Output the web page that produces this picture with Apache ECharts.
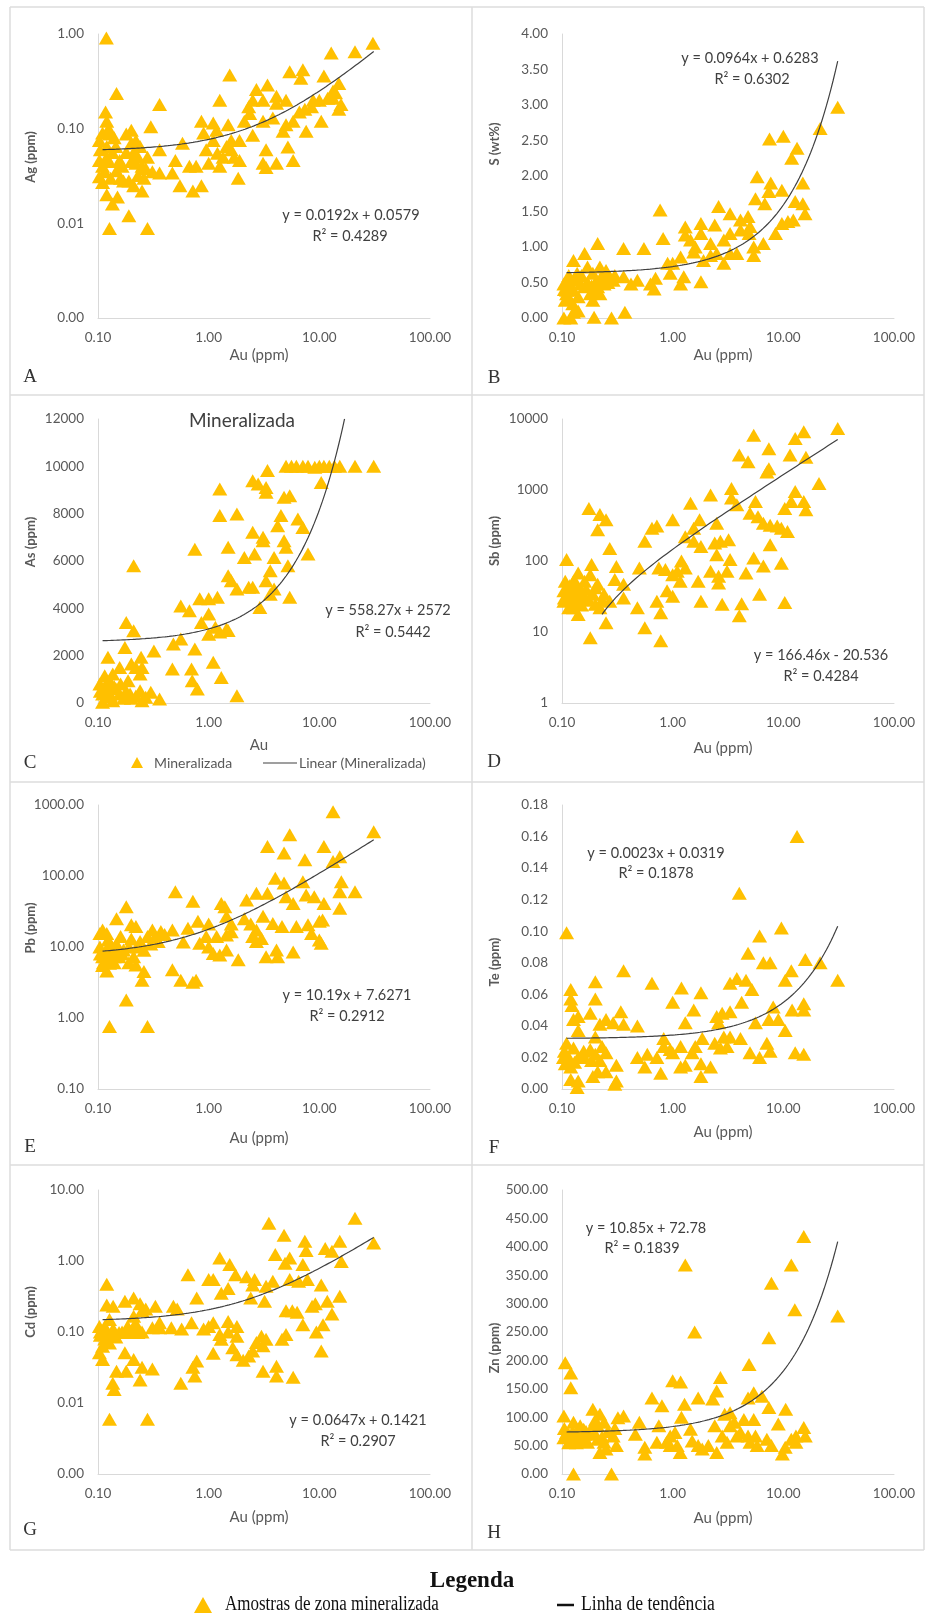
<!DOCTYPE html>
<html><head><meta charset="utf-8">
<script src="https://cdn.jsdelivr.net/npm/echarts@6/dist/echarts.min.js"></script>
<style>html,body{margin:0;padding:0;background:#fff}#c{width:928px;height:1616px}</style>
</head><body><div id="c"></div>
<script>
// ---------------- DATA ----------------
const xTicks = [0.1, 1, 10, 100];   // Au (ppm), log axis
const panelLetters = ['A','B','C','D','E','F','G','H'];
const yTitles = ['Ag (ppm)','S (wt%)','As (ppm)','Sb (ppm)','Pb (ppm)','Te (ppm)','Cd (ppm)','Zn (ppm)'];
const xTitles = ['Au (ppm)','Au (ppm)','Au','Au (ppm)','Au (ppm)','Au (ppm)','Au (ppm)','Au (ppm)'];
const equations = ['y = 0.0192x + 0.0579','y = 0.0964x + 0.6283','y = 558.27x + 2572','y = 166.46x - 20.536',
                   'y = 10.19x + 7.6271','y = 0.0023x + 0.0319','y = 0.0647x + 0.1421','y = 10.85x + 72.78'];
const rSquared = ['R² = 0.4289','R² = 0.6302','R² = 0.5442','R² = 0.4284','R² = 0.2912','R² = 0.1878','R² = 0.2907','R² = 0.1839'];
// linear trend coefficients [slope, intercept] and drawn x-range
const trendCoef = [[0.0192,0.0579],[0.0964,0.6283],[558.27,2572],[166.46,-20.536],[10.19,7.6271],[0.0023,0.0319],[0.0647,0.1421],[10.85,72.78]];
const trendRange = [[0.11,31],[0.11,31],[0.11,16.9],[0.23,31],[0.11,31],[0.11,31],[0.11,31],[0.11,31]];

// [Au, element]
const agData = [[0.119,0.91],[0.147,0.235],[0.117,0.15],[0.12,0.12],[0.36,0.18],[0.30,0.105],[1.55,0.37],[1.26,0.2],[0.58,0.07],[0.36,0.06],[0.86,0.12],[1.1,0.115],[1.5,0.11],[2.7,0.26],[3.4,0.29],[4.1,0.22],[5,0.2],[5.4,0.4],[7.1,0.42],[6.8,0.34],[12.8,0.63],[21,0.65],[30.5,0.8],[11,0.36],[15,0.3],[15.7,0.18],[15,0.16],[10.4,0.12],[13.3,0.25],[8.8,0.2],[7.6,0.094],[5.8,0.046],[5.2,0.064],[4.7,0.094],[3.3,0.06],[3.1,0.043],[3.3,0.039],[4.1,0.043],[2.5,0.085],[2.35,0.145],[1.9,0.046],[1.85,0.03],[1.6,0.06],[1.35,0.05],[1.26,0.04],[1.0,0.043],[0.95,0.06],[0.77,0.04],[0.67,0.04],[0.55,0.025],[0.72,0.022],[0.86,0.025],[0.5,0.046],[0.47,0.034],[0.36,0.034],[0.31,0.035],[0.25,0.022],[0.19,0.012],[0.127,0.0088],[0.28,0.0088],[0.135,0.016],[0.15,0.019],[0.12,0.02],[0.103,0.031],[0.11,0.04],[0.103,0.075],[0.127,0.088],[0.18,0.088],[0.2,0.096],[0.22,0.075],[0.18,0.056],[0.21,0.056],[0.157,0.046],[0.22,0.043],[0.19,0.028],[0.21,0.025],[0.17,0.028],[0.25,0.04],[0.135,0.056],[0.12,0.05],[0.103,0.046],[0.11,0.027],[0.147,0.036],[0.28,0.05],[1.6,0.075],[1.45,0.065],[1.1,0.075],[1.18,0.096],[1.9,0.075],[5,0.11],[5.8,0.12],[6.6,0.15],[7.4,0.16],[8.5,0.17],[10,0.2],[11.9,0.21],[14,0.24],[3.1,0.2],[3.1,0.12],[3.8,0.13],[4.1,0.185],[2.5,0.2],[13.3,0.21],[0.115,0.035],[0.13,0.03],[0.16,0.03],[0.23,0.032],[0.26,0.03],[0.12,0.065],[0.14,0.08],[0.24,0.065],
  [0.105,0.06],[0.125,0.045],[0.145,0.065],[0.165,0.04],[0.2,0.045],[0.23,0.05],[0.27,0.038],[0.11,0.09],[0.125,0.1],[0.2,0.07],[1.2,0.055],[1.7,0.05],[2.1,0.12],[2.3,0.17],[0.9,0.09]];

const sData = [[31,2.97],[21.5,2.67],[7.5,2.52],[10,2.56],[13.3,2.39],[11.9,2.25],[5.8,1.99],[7.7,1.9],[9.7,1.8],[15,1.9],[7.4,1.78],[5.6,1.68],[6.8,1.61],[12.8,1.64],[15,1.61],[15.7,1.47],[0.77,1.52],[2.6,1.57],[3.3,1.47],[4.1,1.38],[4.8,1.43],[5,1.29],[1.3,1.28],[1.8,1.33],[2.4,1.31],[1.8,1.19],[1.3,1.17],[0.82,1.12],[0.55,0.98],[0.36,0.98],[0.21,1.05],[0.16,0.91],[0.127,0.81],[1.55,0.93],[2.2,1.05],[2.9,1.1],[3.3,1.19],[4.1,1.24],[4.9,1.19],[5.4,1.0],[5.4,0.88],[6.6,1.05],[8.5,1.19],[9.7,1.33],[11,1.36],[12.3,1.38],[3.3,0.91],[2.9,0.77],[3.8,0.91],[2.5,0.91],[2.2,0.88],[1.9,0.81],[1.18,0.86],[1.0,0.77],[0.9,0.77],[0.95,0.63],[1.26,0.58],[1.18,0.48],[1.8,0.51],[0.7,0.56],[0.63,0.48],[0.68,0.41],[0.48,0.53],[0.42,0.48],[0.36,0.58],[0.29,0.53],[0.25,0.67],[0.22,0.72],[0.19,0.63],[0.17,0.72],[0.147,0.48],[0.127,0.39],[0.11,0.34],[0.104,0.48],[0.107,0.25],[0.12,0.53],[0.137,0.63],[0.16,0.44],[0.18,0.34],[0.21,0.44],[0.24,0.48],[0.27,0.58],[0.19,0.25],[0.22,0.34],[0.104,0.0],[0.12,0.0],[0.127,0.08],[0.195,0.01],[0.28,0.0],[0.37,0.08],[0.11,0.39],[1.6,1.0],[1.45,1.1],[0.115,0.6],[0.14,0.3],[0.2,0.5],[0.23,0.6],
  [0.105,0.4],[0.118,0.45],[0.13,0.55],[0.15,0.6],[0.17,0.5],[0.185,0.45],[0.2,0.38],[0.23,0.55],[0.26,0.5],[0.3,0.6],[0.112,0.28],[0.125,0.2],[0.14,0.1]];

const asData = [[0.11,380],[0.12,660],[0.104,800],[0.127,940],[0.136,1225],[0.115,1150],[0.157,1500],[0.123,1930],[0.175,2350],[0.18,3400],[0.21,3050],[0.21,5800],[0.2,1650],[0.22,1500],[0.245,1930],[0.25,1500],[0.24,1225],[0.187,940],[0.157,380],[0.195,380],[0.24,520],[0.27,240],[0.3,450],[0.36,170],[0.136,100],[0.11,30],[0.32,2200],[0.47,1440],[0.48,2490],[0.56,2700],[0.56,4100],[0.67,3900],[0.75,2280],[0.7,1440],[0.71,940],[0.79,590],[0.75,6500],[0.83,4400],[1.0,4400],[1.2,4470],[0.86,3400],[1.0,3760],[1.0,2900],[1.15,3200],[1.26,3000],[1.45,3130],[1.5,3060],[1.1,1720],[1.3,1080],[1.8,310],[1.26,9040],[1.26,7920],[1.8,7990],[1.5,6580],[1.5,5380],[1.6,5170],[1.8,4820],[2.1,6150],[2.5,4890],[2.9,4040],[2.3,4890],[2.6,6300],[2.5,7210],[2.5,9390],[2.8,9250],[3.3,9110],[3.3,8900],[3.4,9820],[3.1,7000],[3.1,6860],[3.3,5170],[3.6,5590],[3.9,4820],[3.9,6150],[4.2,7490],[4.5,7920],[4.8,8690],[5.4,8760],[4.8,6860],[5.0,6580],[5.2,5800],[5.4,4470],[6.4,7770],[7.1,7420],[7.9,6300],[5.0,10000],[5.6,10000],[6.2,10000],[7.1,10000],[7.9,10000],[9.1,9960],[10,10000],[11,10000],[12.3,10000],[13.7,10000],[15.3,10000],[21,10000],[31,10000],[10.4,9320],[3.6,4600],[0.14,700],[0.13,300],[0.17,200],
  [0.105,500],[0.118,250],[0.125,450],[0.145,600],[0.16,800],[0.18,500],[0.2,200],[0.22,300],[0.25,100],[0.115,700]];

const sbData = [[31,7330],[15.3,6600],[5.4,5900],[12.8,5300],[7.4,3800],[4.0,3100],[4.8,2500],[11.5,3100],[16,2900],[7.4,2000],[7.1,1800],[21,1230],[3.4,1050],[3.4,770],[2.2,850],[1.45,650],[3.8,620],[5.6,690],[12.8,950],[15.3,690],[16,525],[10.3,550],[11.8,690],[5,470],[5.9,420],[6.6,340],[7.6,320],[8.8,310],[9.6,290],[10.9,260],[7.6,170],[5.4,110],[6.6,85],[9.6,93],[10.3,26],[6.1,34],[4.2,25],[4.0,17],[2.8,24.5],[1.8,27],[4.6,68],[3.3,105],[3.2,200],[2.7,190],[2.4,180],[2.5,340],[2.5,122],[2.6,61],[2.2,72],[2.6,49],[3.1,72],[1.7,52],[1.8,160],[1.55,190],[1.75,380],[1.3,220],[1.0,380],[1.55,290],[1.2,100],[1.3,80],[1.1,72],[1.17,52],[1.0,64],[0.86,76],[0.75,80],[0.89,38],[1.0,32],[0.72,27],[0.78,18.6],[0.78,7.5],[0.56,11.5],[0.48,22],[0.5,80],[0.56,190],[0.65,290],[0.72,310],[0.31,84],[0.3,55],[0.36,47],[0.36,30],[0.27,150],[0.25,380],[0.22,450],[0.21,275],[0.175,550],[0.18,8.3],[0.25,13.5],[0.22,22],[0.24,34],[0.19,34],[0.21,47],[0.185,89],[0.18,64],[0.16,52],[0.15,38],[0.14,27],[0.14,17.7],[0.127,22],[0.12,30],[0.11,42],[0.11,105],[0.104,38],[0.104,27],[0.127,52],[0.14,68],[0.12,38],[0.107,52],[0.133,42],[0.157,30],[0.27,27],[0.2,24.5],[0.115,22],
  [0.105,30],[0.113,35],[0.118,45],[0.125,28],[0.13,35],[0.135,48],[0.142,32],[0.15,24],[0.165,40],[0.175,28],[0.2,42],[0.23,28]];

const pbData = [[13.3,805],[31,420],[5.4,380],[3.4,260],[11,260],[4.8,210],[7.4,170],[15.3,187],[13.3,160],[4.0,93],[4.8,80],[7.1,83],[15.8,83],[15.3,60],[21,60],[0.5,60],[3.4,57],[2.7,57],[2.2,46],[5,51],[5.8,41],[7.6,54],[9,51],[11,41],[15.3,35],[1.3,41],[1.4,37],[0.72,44],[0.18,37],[0.147,25],[0.11,17.4],[0.2,20.5],[0.22,19.4],[0.31,17.4],[0.37,16.5],[0.47,17.4],[0.65,18.3],[0.8,23],[1.0,21],[1.45,27],[1.6,21],[1.6,16.4],[1.45,14.8],[1.18,14],[0.95,14],[0.83,11.3],[1.0,10],[1.1,8.1],[1.26,7.7],[1.45,9.1],[1.85,6.6],[0.59,11.8],[0.47,4.8],[0.56,3.4],[0.72,3.2],[0.77,3.4],[0.26,4.5],[0.25,3.4],[0.18,1.8],[0.127,0.76],[0.28,0.76],[0.12,4.6],[0.127,5.9],[0.11,7.3],[0.104,10],[0.123,12.5],[0.147,11],[0.17,9.1],[0.19,10],[0.21,7.3],[0.22,5.6],[0.19,6],[0.155,7.3],[0.14,7.3],[0.136,9],[0.28,14],[0.33,14],[0.104,15.5],[0.12,15.5],[3.8,21.4],[4.6,19.4],[6.2,19.4],[7.9,20.5],[10,23],[10.7,24],[8.5,15.5],[10,12.5],[10.4,11.3],[3.1,27],[2.7,17.4],[3.0,13.2],[2.7,12],[3.3,7.3],[4.1,9.1],[4.2,7.3],[5.8,8.5],[2.5,14],[2.4,21],[2.1,25],[0.11,5.5],[0.13,8],[0.16,14],[0.24,12],[0.3,11],
  [0.105,8],[0.112,6],[0.118,9],[0.125,7],[0.13,11],[0.14,6],[0.15,9],[0.165,8],[0.2,13],[0.23,10],[0.26,9],[0.35,12],[0.4,15]];

const teData = [[13.3,0.160],[4.0,0.124],[9.6,0.102],[0.11,0.099],[6.1,0.097],[4.8,0.086],[15.8,0.082],[21.5,0.080],[6.6,0.080],[7.6,0.080],[11.8,0.075],[0.36,0.075],[10.4,0.069],[31,0.069],[4.6,0.069],[3.3,0.067],[3.8,0.070],[0.2,0.068],[0.65,0.067],[1.2,0.064],[1.8,0.061],[5.2,0.063],[0.12,0.063],[0.12,0.057],[0.2,0.057],[1.0,0.055],[4.2,0.055],[15.3,0.054],[12,0.050],[0.123,0.053],[1.55,0.050],[0.34,0.049],[0.18,0.048],[0.14,0.046],[0.127,0.044],[0.25,0.044],[1.3,0.042],[8.1,0.052],[2.8,0.048],[3.3,0.049],[7.4,0.044],[9,0.044],[10.4,0.037],[5.6,0.042],[0.48,0.040],[0.36,0.041],[0.22,0.041],[0.29,0.042],[2.6,0.042],[0.14,0.037],[0.11,0.029],[0.127,0.026],[0.103,0.020],[0.107,0.016],[0.12,0.014],[0.14,0.020],[0.157,0.024],[0.18,0.025],[0.185,0.018],[0.2,0.033],[0.23,0.027],[0.25,0.023],[0.19,0.008],[0.21,0.011],[0.12,0.006],[0.137,0.001],[0.14,0.005],[0.3,0.003],[0.31,0.005],[0.31,0.015],[0.25,0.011],[0.48,0.020],[0.56,0.014],[0.59,0.022],[0.72,0.020],[0.78,0.010],[0.83,0.032],[0.95,0.025],[1.0,0.023],[1.18,0.027],[1.18,0.014],[1.3,0.015],[1.5,0.023],[1.6,0.027],[1.85,0.032],[1.8,0.016],[1.8,0.008],[2.2,0.014],[0.83,0.027],[2.4,0.029],[2.5,0.046],[2.7,0.026],[3.1,0.027],[3.3,0.033],[4.1,0.032],[2.9,0.033],[5,0.023],[6.1,0.020],[7.1,0.029],[7.6,0.024],[12.8,0.023],[15.3,0.022],[15.3,0.050],
  [0.105,0.024],[0.115,0.02],[0.13,0.017],[0.16,0.02],[0.2,0.022],[0.22,0.018]];

const cdData = [[21,4.0],[3.5,3.4],[4.8,2.3],[7.4,1.9],[31,1.8],[15.3,1.9],[11.3,1.5],[13,1.37],[7.6,1.4],[4.0,1.23],[5.4,1.1],[1.26,1.1],[1.55,0.89],[4.9,0.93],[15.8,0.98],[7.1,0.89],[1.75,0.64],[0.65,0.64],[1.0,0.55],[2.2,0.6],[2.6,0.55],[2.5,0.46],[5.4,0.55],[6.5,0.52],[7.8,0.55],[3.8,0.52],[3.3,0.44],[10.4,0.46],[1.3,0.35],[1.1,0.55],[1.5,0.41],[3.2,0.27],[0.12,0.47],[15.3,0.32],[11.8,0.27],[0.78,0.30],[2.4,0.30],[0.137,0.23],[0.12,0.24],[0.175,0.27],[0.21,0.30],[0.24,0.25],[0.27,0.21],[0.33,0.23],[0.48,0.23],[0.52,0.21],[0.21,0.166],[0.25,0.2],[8.6,0.23],[9.2,0.25],[5.0,0.2],[5.7,0.2],[6.3,0.19],[13,0.18],[7.1,0.127],[10.8,0.127],[9.4,0.10],[5,0.092],[4.6,0.079],[10.4,0.054],[1.26,0.092],[1.5,0.1],[1.1,0.135],[1.0,0.12],[0.9,0.11],[0.7,0.135],[0.57,0.11],[0.46,0.115],[0.36,0.135],[0.31,0.115],[0.36,0.115],[1.5,0.14],[1.8,0.12],[1.8,0.087],[1.65,0.06],[1.8,0.048],[2.05,0.04],[2.3,0.046],[2.5,0.054],[2.7,0.071],[3.0,0.087],[3.3,0.079],[3.1,0.064],[1.3,0.079],[1.1,0.05],[3.1,0.028],[4.1,0.033],[4.1,0.024],[5.8,0.023],[0.78,0.039],[0.72,0.032],[0.75,0.024],[0.56,0.019],[0.31,0.03],[0.25,0.032],[0.24,0.021],[0.21,0.041],[0.18,0.028],[0.147,0.028],[0.14,0.0155],[0.136,0.019],[0.175,0.051],[0.127,0.0059],[0.28,0.0059],[0.103,0.051],[0.11,0.063],[0.11,0.041],[0.12,0.098],[0.103,0.12],[0.137,0.11],[0.155,0.098],[0.127,0.07],[0.185,0.12],[0.2,0.098],[0.23,0.098],[0.127,0.15],[0.115,0.08],[0.105,0.09],[0.22,0.13],
  [0.105,0.1],[0.115,0.12],[0.125,0.09],[0.135,0.1],[0.145,0.085],[0.165,0.1],[0.19,0.11],[0.21,0.12],[0.25,0.1]];

const znData = [[15.3,418],[1.3,368],[11.8,368],[7.8,336],[12.7,289],[31,278],[1.58,250],[7.4,240],[0.107,196],[0.12,178],[0.12,152],[4.9,193],[1.0,164],[1.18,162],[2.7,170],[2.5,146],[2.3,132],[0.65,134],[0.8,120],[1.7,134],[1.28,123],[5.4,143],[4.8,134],[6.4,137],[7.4,117],[10.5,114],[9,88],[1.2,100],[3.3,108],[0.36,102],[0.32,99],[0.5,91],[0.19,114],[0.22,105],[0.104,102],[0.127,91],[0.146,85],[0.11,73],[0.104,64],[0.12,61],[0.137,67],[0.157,79],[0.18,73],[0.21,85],[0.24,91],[0.21,61],[0.24,56],[0.22,38],[0.25,44],[0.31,50],[0.29,67],[0.17,56],[0.127,0],[0.28,0],[0.46,70],[0.56,47],[0.56,35],[0.75,85],[0.72,56],[0.88,56],[0.95,67],[1.05,73],[1.1,50],[1.17,38],[1.45,79],[1.5,58],[1.7,50],[1.85,44],[2.1,50],[2.5,38],[2.4,85],[2.8,67],[3.1,56],[3.3,85],[3.6,91],[4.1,73],[3.8,67],[4.4,96],[4.8,67],[5,56],[5.6,67],[5.8,50],[5.4,96],[7.1,61],[7.8,50],[9.8,35],[10.4,47],[11.8,61],[13,67],[15.3,82],[15.8,67],[13,56],[2.95,105],[0.95,50],[0.115,55],[0.14,60],[0.2,95],[0.16,70],
  [0.105,80],[0.115,70],[0.125,75],[0.135,55],[0.15,65],[0.165,75],[0.19,85],[0.2,70],[0.23,65],[0.26,75],[0.3,80]];

// ---------------- LAYOUT / STYLE ----------------
const seriesData = [agData, sData, asData, sbData, pbData, teData, cdData, znData];
const yCfg = [
  {type:'log', min:0.001, max:1, dec:2},
  {type:'value', min:0, max:4, interval:0.5, dec:2},
  {type:'value', min:0, max:12000, interval:2000, dec:0},
  {type:'log', min:1, max:10000, dec:0},
  {type:'log', min:0.1, max:1000, dec:2},
  {type:'value', min:0, max:0.18, interval:0.02, dec:2},
  {type:'log', min:0.001, max:10, dec:2},
  {type:'value', min:0, max:500, interval:50, dec:2}
];
const COLS = [98, 562], ROWS = [34, 419, 805, 1190], GW = 332, GH = 284;
const yTitleY = [157,144,542,541,928,962,1312,1348];
const xTitleY = [355,355,745,748,1138,1132,1517,1518];
const letterY = [377,378,763,762,1147,1148,1530,1533];
const eqPos = [[351,215,350,236],[750,58,752,79],[388,610,393,632],[821,655,821,676],[347,995,347,1016],[656,853,656,873],[358,1420,358,1441],[646,1228,642,1248]];

const FONT = 'Lato, "Open Sans", sans-serif';
const SERIF = '"Liberation Serif", "DejaVu Serif", serif';
const MARK = '#FFC000', LINE = '#404040', AX = '#d9d9d9', LBL = '#595959';

const grids = [], xAxes = [], yAxes = [], series = [], graphics = [];
for (let i = 0; i < 8; i++) {
  const col = i % 2, row = Math.floor(i / 2);
  const left = COLS[col], top = ROWS[row];
  grids.push({left: left, top: top, width: GW, height: GH, containLabel: false});
  xAxes.push({
    gridIndex: i, type: 'log', logBase: 10, min: xTicks[0], max: xTicks[xTicks.length - 1],
    axisLine: {show: true, lineStyle: {color: AX, width: 1}},
    axisTick: {show: false}, splitLine: {show: false}, minorTick: {show: false},
    axisLabel: {color: LBL, fontSize: 13.5, fontFamily: FONT, margin: 13,
      formatter: v => Number(v).toFixed(2)}
  });
  const yc = yCfg[i];
  const ya = {
    gridIndex: i, type: yc.type, min: yc.min, max: yc.max,
    axisLine: {show: true, lineStyle: {color: AX, width: 1}},
    axisTick: {show: false}, splitLine: {show: false},
    axisLabel: {color: LBL, fontSize: 13.5, fontFamily: FONT, margin: 14,
      formatter: v => Number(v).toFixed(yc.dec)}
  };
  if (yc.type === 'log') ya.logBase = 10; else ya.interval = yc.interval;
  yAxes.push(ya);

  series.push({
    type: 'scatter', xAxisIndex: i, yAxisIndex: i, data: seriesData[i],
    symbol: 'triangle', symbolSize: [15, 13], itemStyle: {color: MARK, opacity: 1},
    emphasis: {disabled: true}, z: 2
  });
  // linear trendline y = a*x + b (as printed on the chart), drawn on the log x axis
  const [a, b] = trendCoef[i];
  const [x0, x1] = trendRange[i];
  const pts = [];
  const N = 120;
  for (let k = 0; k <= N; k++) {
    const x = x0 * Math.pow(x1 / x0, k / N);
    pts.push([x, a * x + b]);
  }
  series.push({
    type: 'line', xAxisIndex: i, yAxisIndex: i, data: pts, showSymbol: false, symbol: 'none',
    smooth: false, lineStyle: {color: LINE, width: 1.2}, emphasis: {disabled: true}, z: 3, silent: true
  });

  // texts
  const cx = left + GW / 2 - 5;
  graphics.push({type: 'text', x: col === 0 ? 31 : 495, y: yTitleY[i], rotation: Math.PI / 2,
    style: {text: yTitles[i], fontSize: 13, fontWeight: 'bold', fontFamily: FONT, fill: LBL, align: 'center', verticalAlign: 'middle'}});
  graphics.push({type: 'text', x: cx, y: xTitleY[i],
    style: {text: xTitles[i], fontSize: 15, fontFamily: FONT, fill: LBL, align: 'center', verticalAlign: 'middle'}});
  graphics.push({type: 'text', x: col === 0 ? 30 : 494, y: letterY[i],
    style: {text: panelLetters[i], fontSize: 19, fontFamily: SERIF, fill: '#333', align: 'center', verticalAlign: 'middle'}});
  const e = eqPos[i];
  graphics.push({type: 'text', x: e[0], y: e[1],
    style: {text: equations[i], fontSize: 14.5, fontFamily: FONT, fill: '#404040', align: 'center', verticalAlign: 'middle'}});
  graphics.push({type: 'text', x: e[2], y: e[3],
    style: {text: rSquared[i], fontSize: 14.5, fontFamily: FONT, fill: '#404040', align: 'center', verticalAlign: 'middle'}});
}

// panel C title and legend
graphics.push({type: 'text', x: 242, y: 421,
  style: {text: 'Mineralizada', fontSize: 19, fontFamily: FONT, fill: '#404040', align: 'center', verticalAlign: 'middle'}});
graphics.push({type: 'polygon', shape: {points: [[137, 757], [143, 768], [131, 768]]}, style: {fill: MARK}});
graphics.push({type: 'text', x: 154, y: 763,
  style: {text: 'Mineralizada', fontSize: 14, fontFamily: FONT, fill: LBL, align: 'left', verticalAlign: 'middle'}});
graphics.push({type: 'line', shape: {x1: 263, y1: 763, x2: 297, y2: 763}, style: {stroke: LINE, lineWidth: 1.2}});
graphics.push({type: 'text', x: 299, y: 763,
  style: {text: 'Linear (Mineralizada)', fontSize: 14, fontFamily: FONT, fill: LBL, align: 'left', verticalAlign: 'middle'}});

// panel frames
const frameColor = '#dcdcdc';
const hLines = [7, 395, 782, 1165, 1550];
hLines.forEach(y => graphics.push({type: 'line', shape: {x1: 10, y1: y, x2: 924, y2: y}, style: {stroke: frameColor, lineWidth: 1.5}, z: -1}));
[10, 472, 924].forEach(x => graphics.push({type: 'line', shape: {x1: x, y1: 7, x2: x, y2: 1550}, style: {stroke: frameColor, lineWidth: 1.5}, z: -1}));

// bottom legend
graphics.push({type: 'text', x: 472, y: 1581,
  style: {text: 'Legenda', fontSize: 23, fontWeight: 'bold', fontFamily: SERIF, fill: '#111', align: 'center', verticalAlign: 'middle'}});
graphics.push({type: 'polygon', shape: {points: [[203, 1597], [212, 1613], [194, 1613]]}, style: {fill: MARK}});
graphics.push({type: 'text', x: 225, y: 1605, scaleX: 0.85,
  style: {text: 'Amostras de zona mineralizada', fontSize: 20, fontFamily: SERIF, fill: '#111', align: 'left', verticalAlign: 'middle'}});
graphics.push({type: 'line', shape: {x1: 557, y1: 1605, x2: 574, y2: 1605}, style: {stroke: '#111', lineWidth: 2.5}});
graphics.push({type: 'text', x: 581, y: 1605, scaleX: 0.88,
  style: {text: 'Linha de tendência', fontSize: 20, fontFamily: SERIF, fill: '#111', align: 'left', verticalAlign: 'middle'}});

const chart = echarts.init(document.getElementById('c'), null, {renderer: 'canvas'});
chart.setOption({
  animation: false,
  backgroundColor: '#fff',
  grid: grids, xAxis: xAxes, yAxis: yAxes, series: series,
  graphic: graphics
});
</script>
</body></html>
